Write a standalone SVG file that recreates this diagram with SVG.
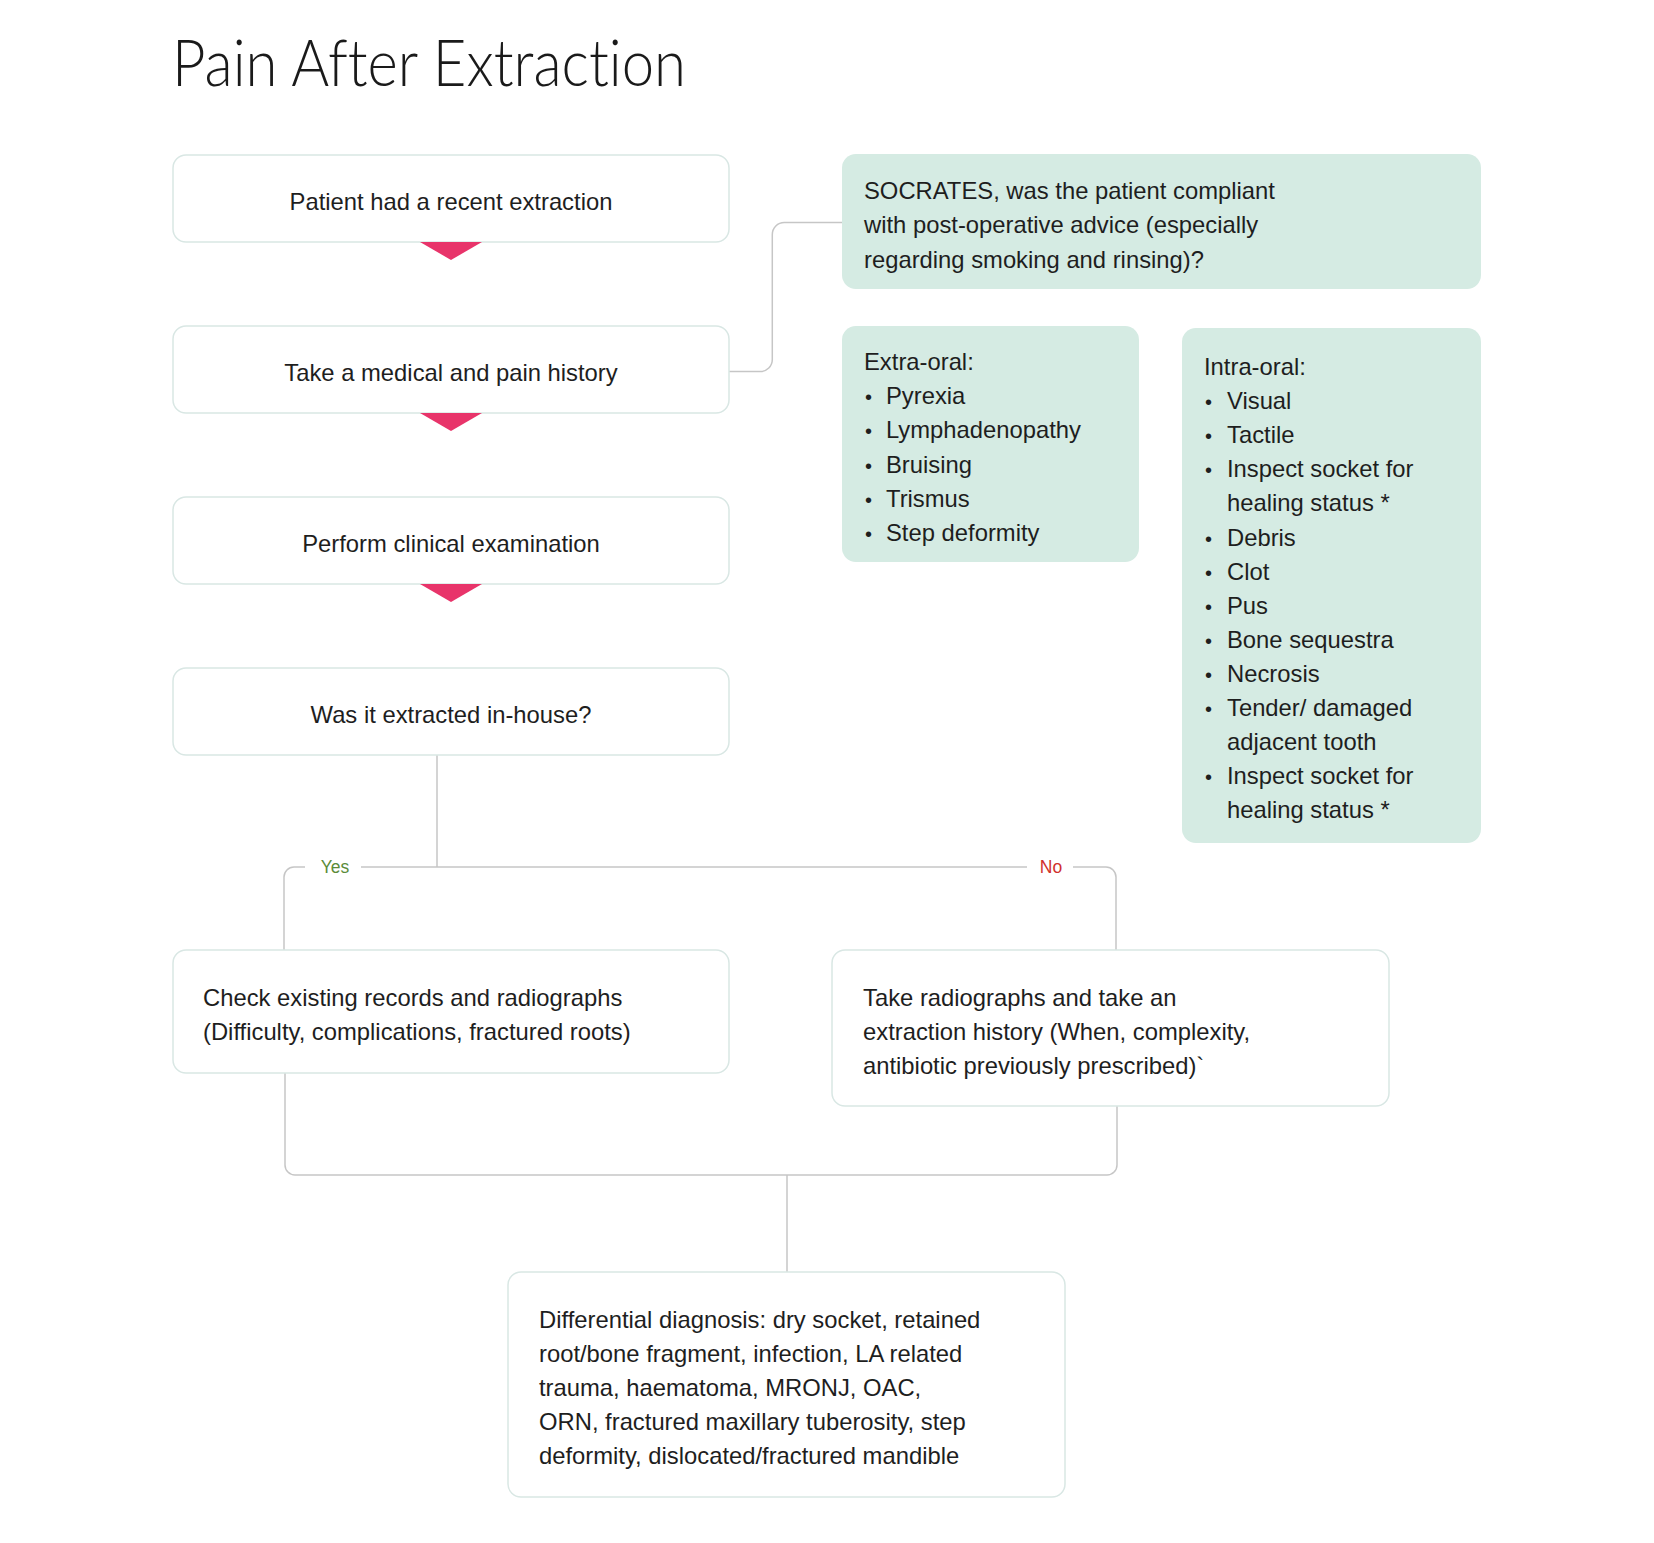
<svg xmlns="http://www.w3.org/2000/svg" width="1654" height="1543" viewBox="0 0 1654 1543">
  <style>
    .box { fill: #ffffff; stroke: #d9e7e4; stroke-width: 1.5; }
    .note { fill: #d5ebe3; stroke: none; }
    .txt { font-family: "Liberation Sans", Arial, sans-serif; font-size: 23.8px; fill: #1e1e1e; }
    .mid { text-anchor: middle; }
    .bul { font-size: 20px; }
    .link { fill: none; stroke: #c6c6c6; stroke-width: 1.5; }
    .tri { fill: #e8346a; }
    .lbl { font-family: "Liberation Sans", Arial, sans-serif; font-size: 17.5px; text-anchor: middle; }
    .title { font-family: Lato, Roboto, "Liberation Sans", sans-serif; font-weight: 300; font-size: 66px; fill: #1a1a1a; font-variant-ligatures: none; }
  </style>
  <defs>
    <polygon id="down" class="tri" points="-31,0 31,0 0,18"/>
  </defs>
  <rect width="1654" height="1543" fill="#ffffff"/>

  <text class="title" x="172" y="86" textLength="514" lengthAdjust="spacingAndGlyphs">Pain After Extraction</text>

  <!-- connectors -->
  <g id="connectors">
    <path class="link" d="M729 371.5 H760.3 A12 12 0 0 0 772.3 359.5 V234.5 A12 12 0 0 1 784.3 222.5 H842"/>
    <path class="link" d="M437 755 V867"/>
    <path class="link" d="M284 950 V877 A10 10 0 0 1 294 867 H305"/>
    <path class="link" d="M361 867 H1027"/>
    <path class="link" d="M1073 867 H1106 A10 10 0 0 1 1116 877 V950"/>
    <path class="link" d="M285 1073 V1165 A10 10 0 0 0 295 1175 H1107 A10 10 0 0 0 1117 1165 V1106"/>
    <path class="link" d="M787 1175 V1272"/>
    <text class="lbl" x="335" y="873" fill="#5b8c3a">Yes</text>
    <text class="lbl" x="1051" y="873" fill="#d0312d">No</text>
  </g>

  <g id="recent-extraction">
    <rect class="box" x="173" y="155" width="556" height="87" rx="13"/>
    <text class="txt mid" x="451" y="210">Patient had a recent extraction</text>
    <use href="#down" x="451" y="242"/>
  </g>

  <g id="history">
    <rect class="box" x="173" y="326" width="556" height="87" rx="13"/>
    <text class="txt mid" x="451" y="381">Take a medical and pain history</text>
    <use href="#down" x="451" y="413"/>
  </g>

  <g id="examination">
    <rect class="box" x="173" y="497" width="556" height="87" rx="13"/>
    <text class="txt mid" x="451" y="552">Perform clinical examination</text>
    <use href="#down" x="451" y="584"/>
  </g>

  <g id="in-house">
    <rect class="box" x="173" y="668" width="556" height="87" rx="13"/>
    <text class="txt mid" x="451" y="723">Was it extracted in-house?</text>
  </g>

  <g id="socrates">
    <rect class="note" x="842" y="154" width="639" height="135" rx="14"/>
    <text class="txt" x="864" y="199">SOCRATES, was the patient compliant</text>
    <text class="txt" x="864" y="233.3">with post-operative advice (especially</text>
    <text class="txt" x="864" y="267.5">regarding smoking and rinsing)?</text>
  </g>

  <g id="extra-oral">
    <rect class="note" x="842" y="326" width="297" height="236" rx="14"/>
    <text class="txt" x="864" y="370">Extra-oral:</text>
    <text class="txt" y="404.2"><tspan class="bul" x="865">•</tspan><tspan x="886">Pyrexia</tspan></text>
    <text class="txt" y="438.4"><tspan class="bul" x="865">•</tspan><tspan x="886">Lymphadenopathy</tspan></text>
    <text class="txt" y="472.6"><tspan class="bul" x="865">•</tspan><tspan x="886">Bruising</tspan></text>
    <text class="txt" y="506.8"><tspan class="bul" x="865">•</tspan><tspan x="886">Trismus</tspan></text>
    <text class="txt" y="541"><tspan class="bul" x="865">•</tspan><tspan x="886">Step deformity</tspan></text>
  </g>

  <g id="intra-oral">
    <rect class="note" x="1182" y="328" width="299" height="515" rx="14"/>
    <text class="txt" x="1204" y="375">Intra-oral:</text>
    <text class="txt" y="409.1"><tspan class="bul" x="1205">•</tspan><tspan x="1227">Visual</tspan></text>
    <text class="txt" y="443.2"><tspan class="bul" x="1205">•</tspan><tspan x="1227">Tactile</tspan></text>
    <text class="txt" y="477.3"><tspan class="bul" x="1205">•</tspan><tspan x="1227">Inspect socket for</tspan></text>
    <text class="txt" x="1227" y="511.4">healing status *</text>
    <text class="txt" y="545.5"><tspan class="bul" x="1205">•</tspan><tspan x="1227">Debris</tspan></text>
    <text class="txt" y="579.6"><tspan class="bul" x="1205">•</tspan><tspan x="1227">Clot</tspan></text>
    <text class="txt" y="613.7"><tspan class="bul" x="1205">•</tspan><tspan x="1227">Pus</tspan></text>
    <text class="txt" y="647.8"><tspan class="bul" x="1205">•</tspan><tspan x="1227">Bone sequestra</tspan></text>
    <text class="txt" y="681.9"><tspan class="bul" x="1205">•</tspan><tspan x="1227">Necrosis</tspan></text>
    <text class="txt" y="716"><tspan class="bul" x="1205">•</tspan><tspan x="1227">Tender/ damaged</tspan></text>
    <text class="txt" x="1227" y="750.1">adjacent tooth</text>
    <text class="txt" y="784.2"><tspan class="bul" x="1205">•</tspan><tspan x="1227">Inspect socket for</tspan></text>
    <text class="txt" x="1227" y="818.3">healing status *</text>
  </g>

  <g id="check-records">
    <rect class="box" x="173" y="950" width="556" height="123" rx="13"/>
    <text class="txt" x="203" y="1006">Check existing records and radiographs</text>
    <text class="txt" x="203" y="1040.2">(Difficulty, complications, fractured roots)</text>
  </g>

  <g id="take-radiographs">
    <rect class="box" x="832" y="950" width="557" height="156" rx="13"/>
    <text class="txt" x="863" y="1006">Take radiographs and take an</text>
    <text class="txt" x="863" y="1040.2">extraction history (When, complexity,</text>
    <text class="txt" x="863" y="1074.4">antibiotic previously prescribed)`</text>
  </g>

  <g id="differential">
    <rect class="box" x="508" y="1272" width="557" height="225" rx="13"/>
    <text class="txt" x="539" y="1327.5">Differential diagnosis: dry socket, retained</text>
    <text class="txt" x="539" y="1361.7">root/bone fragment, infection, LA related</text>
    <text class="txt" x="539" y="1395.9">trauma, haematoma, MRONJ, OAC,</text>
    <text class="txt" x="539" y="1430.1">ORN, fractured maxillary tuberosity, step</text>
    <text class="txt" x="539" y="1464.3">deformity, dislocated/fractured mandible</text>
  </g>
</svg>
